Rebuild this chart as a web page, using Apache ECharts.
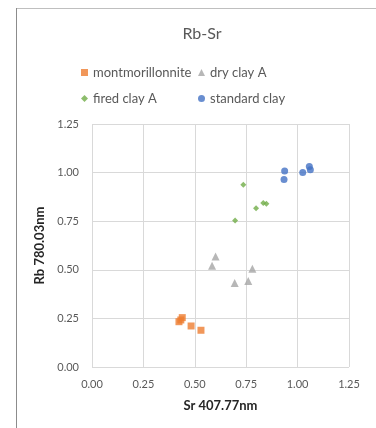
<!DOCTYPE html>
<html><head><meta charset="utf-8">
<script src="https://cdn.jsdelivr.net/npm/echarts@6/dist/echarts.min.js"></script>
<style>html,body{margin:0;padding:0;background:#fff}#c{width:376px;height:428px}</style>
</head><body><div id="c"></div>
<script>
const seriesNames = ['montmorillonnite', 'dry clay A', 'fired clay A', 'standard clay'];
const montmorillonnite = [[0.423,0.233],[0.432,0.242],[0.439,0.254],[0.482,0.211],[0.530,0.189]];
const dryClayA = [[0.584,0.521],[0.601,0.569],[0.694,0.432],[0.760,0.442],[0.780,0.506]];
const firedClayA = [[0.736,0.938],[0.798,0.816],[0.833,0.844],[0.848,0.840],[0.696,0.753]];
const standardClay = [[0.937,1.008],[0.934,0.964],[1.025,1.001],[1.057,1.032],[1.062,1.015]];
const axisTicks = [0, 0.25, 0.5, 0.75, 1.0, 1.25];

const font = 'Lato, "Open Sans", sans-serif';
const txt = '#595959';
const chart = echarts.init(document.getElementById('c'));
const axisCommon = {
  min: axisTicks[0], max: axisTicks[axisTicks.length-1], interval: 0.25,
  axisLine: {show: false}, axisTick: {show: false},
  splitLine: {lineStyle: {color: '#d9d9d9', width: 1}},
  axisLabel: {color: txt, fontSize: 11, fontFamily: font, formatter: v => v.toFixed(2)},
  nameLocation: 'middle',
  nameTextStyle: {color: '#262626', fontSize: 13, fontWeight: 'bold', fontFamily: font}
};
const legendText = {color: txt, fontSize: 13, fontFamily: font};
chart.setOption({
  animation: false,
  title: {text: 'Rb-Sr', left: 197, top: 21, textAlign: 'center',
    textStyle: {color: txt, fontSize: 16, fontWeight: 'normal', fontFamily: font}},
  graphic: [
    {type: 'line', shape: {x1: 16, y1: 8.5, x2: 376, y2: 8.5}, style: {stroke: '#bfbfbf', lineWidth: 1}},
    {type: 'line', shape: {x1: 16.5, y1: 8, x2: 16.5, y2: 428}, style: {stroke: '#8c8c8c', lineWidth: 1}}
  ],
  legend: [
    {data: [seriesNames[0], seriesNames[2]], orient: 'vertical', left: 76, top: 61, itemGap: 13,
     itemWidth: 7, itemHeight: 7, textStyle: legendText},
    {data: [seriesNames[1], seriesNames[3]], orient: 'vertical', left: 193, top: 61, itemGap: 13,
     itemWidth: 7, itemHeight: 7, textStyle: legendText}
  ],
  grid: {left: 92, right: 27, top: 124, bottom: 61},
  xAxis: Object.assign({type: 'value', name: 'Sr 407.77nm', nameGap: 32}, axisCommon,
    {axisLabel: Object.assign({}, axisCommon.axisLabel, {margin: 12})}),
  yAxis: Object.assign({type: 'value', name: 'Rb 780.03nm', nameGap: 39}, axisCommon,
    {axisLabel: Object.assign({}, axisCommon.axisLabel, {margin: 13})}),
  series: [
    {name: seriesNames[0], type: 'scatter', data: montmorillonnite, symbol: 'rect', symbolSize: 7, itemStyle: {color: '#ED7D31'}},
    {name: seriesNames[1], type: 'scatter', data: dryClayA, symbol: 'triangle', symbolSize: 8, itemStyle: {color: '#A5A5A5'}},
    {name: seriesNames[2], type: 'scatter', data: firedClayA, symbol: 'diamond', symbolSize: 6, itemStyle: {color: '#70AD47'}},
    {name: seriesNames[3], type: 'scatter', data: standardClay, symbol: 'circle', symbolSize: 7, itemStyle: {color: '#4472C4'}}
  ]
});
</script></body></html>
